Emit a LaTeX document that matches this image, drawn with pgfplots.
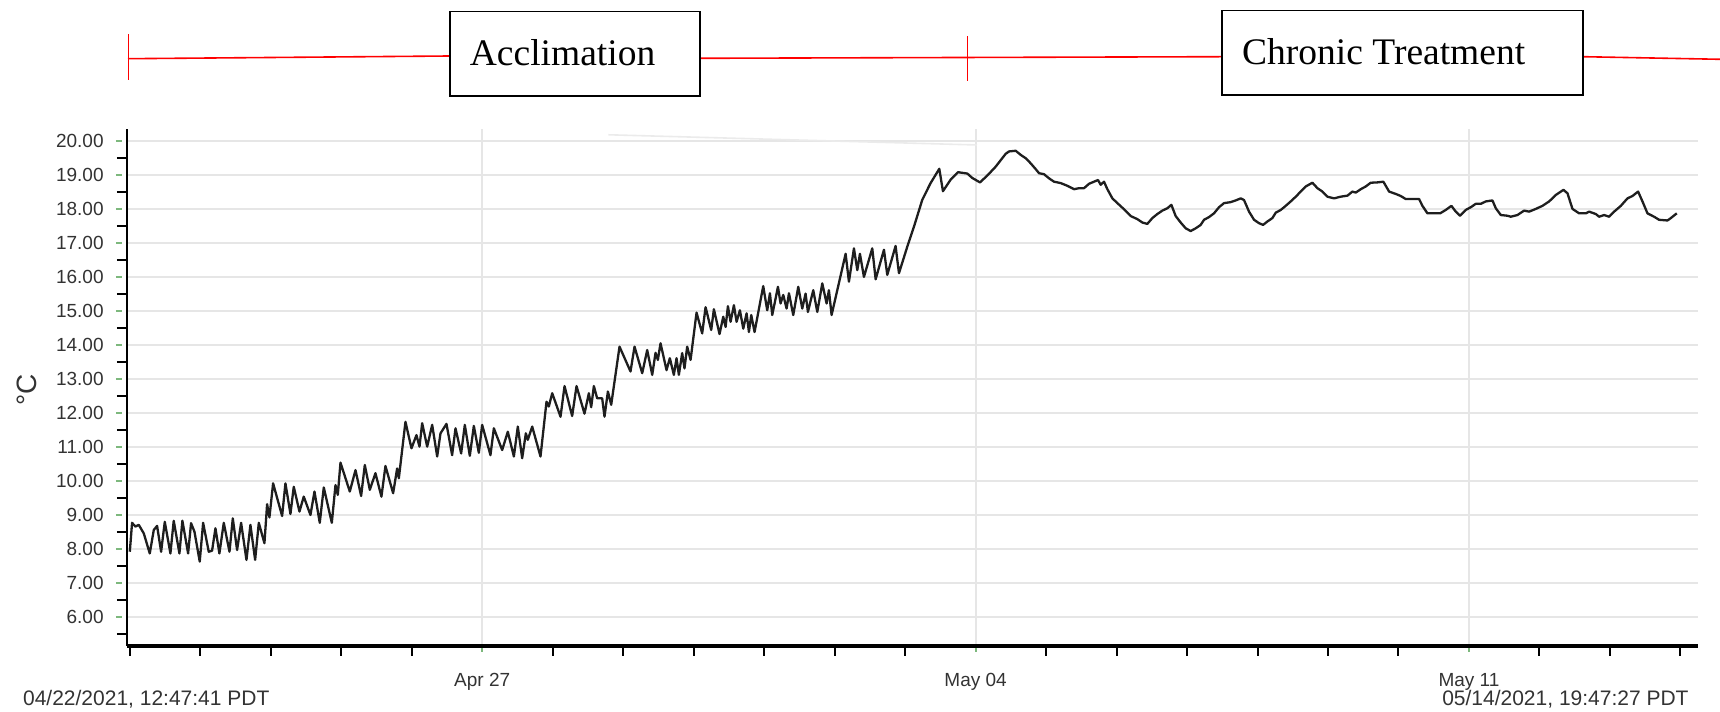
\documentclass[border=0pt]{standalone}
\usepackage{pgfplots}
\pgfplotsset{compat=1.18}
\usepackage{fontspec}
\setmainfont{Liberation Sans}
\newfontfamily\timesf{Liberation Serif}
\definecolor{lbl}{HTML}{333333}
\definecolor{tgreen}{HTML}{7DB87D}
\definecolor{gridc}{HTML}{E6E6E6}
\definecolor{linec}{HTML}{1E1E1E}

\begin{document}
\begin{tikzpicture}
\path[use as bounding box] (0,0) rectangle (860pt,356pt);
\begin{axis}[
  at={(63.5pt,33pt)}, anchor=south west,
  scale only axis, width=785.5pt, height=258.5pt,
  xmin=-0.04, xmax=22.25, ymin=5.138, ymax=20.34,
  axis lines*=left,
  x axis line style={line width=1.7pt},
  y axis line style={line width=1.4pt},
  tick align=outside,
  xtick={5,12,19}, xticklabels={Apr 27,May 04,May 11},
  minor xtick={0,1,2,3,4,6,7,8,9,10,11,13,14,15,16,17,18,20,21,22},
  ytick={6,7,8,9,10,11,12,13,14,15,16,17,18,19,20},
  yticklabels={6.00,7.00,8.00,9.00,10.00,11.00,12.00,13.00,14.00,15.00,16.00,17.00,18.00,19.00,20.00},
  minor ytick={5.5,6.5,7.5,8.5,9.5,10.5,11.5,12.5,13.5,14.5,15.5,16.5,17.5,18.5,19.5},
  major tick length=3pt, minor tick length=5pt,
  every minor tick/.append style={black, line width=1pt},
  every major tick/.append style={tgreen, line width=1pt},
  every major y tick/.append style={xshift=-2.5pt},
  grid=major, major grid style={gridc, line width=1pt},
  every tick label/.append style={font=\fontsize{9.5}{11}\selectfont, text=lbl},
  yticklabel style={anchor=east, inner sep=0pt, xshift=-8.5pt},
  xticklabel style={anchor=base, inner sep=0pt, yshift=-17.1pt},
  clip=false,
]
\addplot[color=black!8, line width=0.8pt, forget plot] coordinates {(6.79,20.17) (12.02,19.87)};
\addplot[color=linec, line width=1.15pt, line join=round, mark=none] coordinates {
(0.00,7.91) (0.032,8.76) (0.079,8.65) (0.127,8.70) (0.198,8.45) (0.283,7.86) (0.340,8.55) (0.387,8.67) (0.444,7.91) (0.496,8.79) (0.576,7.86) (0.623,8.82) (0.704,7.86) (0.746,8.82) (0.827,7.86) (0.869,8.75) (0.917,8.50) (0.992,7.62) (1.040,8.76) (1.120,7.91) (1.167,7.94) (1.215,8.60) (1.271,7.86) (1.333,8.76) (1.414,7.91) (1.461,8.89) (1.522,7.96) (1.579,8.76) (1.655,7.67) (1.711,8.70) (1.778,7.67) (1.830,8.76) (1.910,8.16) (1.948,9.31) (1.981,8.92) (2.033,9.92) (2.161,8.96) (2.208,9.92) (2.279,9.02) (2.326,9.82) (2.407,9.09) (2.468,9.53) (2.563,8.99) (2.620,9.68) (2.695,8.76) (2.752,9.80) (2.866,8.76) (2.918,9.87) (2.951,9.58) (2.989,10.53) (3.121,9.68) (3.202,10.31) (3.282,9.55) (3.334,10.46) (3.405,9.73) (3.485,10.22) (3.570,9.53) (3.627,10.43) (3.736,9.63) (3.793,10.36) (3.817,10.07) (3.911,11.73) (3.996,10.95) (4.067,11.34) (4.110,11.00)
(4.148,11.69) (4.219,11.00) (4.290,11.64) (4.361,10.71) (4.408,11.39) (4.493,11.67) (4.573,10.75) (4.621,11.54) (4.701,10.80) (4.753,11.64) (4.824,10.73) (4.881,11.61) (4.952,10.82) (4.999,11.64) (5.117,10.75) (5.165,11.54) (5.283,10.90) (5.363,11.44) (5.449,10.71) (5.505,11.59) (5.567,10.66) (5.619,11.39) (5.647,11.20) (5.709,11.59) (5.827,10.71) (5.912,12.32) (5.945,12.18) (5.993,12.57) (6.111,11.88) (6.168,12.78) (6.276,11.90) (6.338,12.78) (6.451,11.97) (6.513,12.57) (6.546,12.16) (6.584,12.78) (6.631,12.42) (6.702,12.42) (6.735,11.88) (6.783,12.62) (6.830,12.23) (6.948,13.94) (7.104,13.21) (7.161,13.94) (7.270,13.16) (7.341,13.84) (7.412,13.11) (7.459,13.76) (7.492,13.55) (7.530,14.04) (7.615,13.25) (7.662,13.60) (7.719,13.11) (7.757,13.60) (7.790,13.11) (7.837,13.75) (7.870,13.30) (7.908,13.94) (7.956,13.55) (8.041,14.94) (8.121,14.33) (8.169,15.10) (8.249,14.43) (8.287,15.04) (8.367,14.31)
(8.420,14.82) (8.453,14.52) (8.486,15.13) (8.524,14.67) (8.571,15.16) (8.609,14.67) (8.656,15.01) (8.704,14.47) (8.751,14.92) (8.784,14.37) (8.817,14.87) (8.864,14.37) (8.987,15.72) (9.044,15.01) (9.082,15.51) (9.115,14.87) (9.196,15.70) (9.233,15.21) (9.271,15.46) (9.319,15.06) (9.352,15.51) (9.413,14.87) (9.484,15.70) (9.541,15.06) (9.588,15.50) (9.621,14.96) (9.697,15.60) (9.754,14.96) (9.825,15.80) (9.886,15.21) (9.919,15.60) (9.957,14.87) (10.156,16.67) (10.203,15.85) (10.274,16.83) (10.322,16.19) (10.359,16.67) (10.416,15.99) (10.534,16.83) (10.582,15.92) (10.700,16.79) (10.747,16.05) (10.865,16.90) (10.913,16.10) (11.031,16.88) (11.126,17.47) (11.244,18.26) (11.362,18.75) (11.485,19.17) (11.537,18.51) (11.646,18.85) (11.750,19.07) (11.883,19.03) (11.953,18.90) (12.062,18.77) (12.166,18.97) (12.284,19.23)
(12.427,19.61) (12.474,19.68) (12.569,19.70) (12.640,19.58) (12.711,19.48) (12.782,19.33) (12.853,19.16) (12.900,19.04) (12.971,19.01) (13.042,18.89) (13.113,18.79) (13.207,18.75) (13.302,18.67) (13.397,18.57) (13.468,18.60) (13.539,18.60) (13.610,18.73) (13.680,18.79) (13.737,18.84) (13.775,18.70) (13.822,18.79) (13.870,18.57) (13.941,18.30) (14.012,18.16) (14.106,17.98) (14.201,17.78) (14.295,17.69) (14.366,17.59) (14.437,17.55) (14.508,17.72) (14.579,17.84) (14.650,17.94) (14.721,18.01) (14.778,18.11) (14.839,17.78) (14.910,17.59) (14.981,17.42) (15.052,17.34) (15.123,17.42) (15.194,17.52) (15.241,17.67) (15.312,17.75) (15.383,17.86) (15.454,18.04) (15.525,18.16) (15.620,18.19) (15.691,18.24) (15.762,18.30) (15.809,18.25) (15.880,17.91) (15.951,17.67) (16.022,17.57) (16.079,17.52) (16.140,17.62) (16.211,17.72) (16.259,17.88) (16.330,17.96) (16.400,18.08) (16.471,18.21) (16.543,18.35) (16.613,18.50) (16.684,18.65) (16.779,18.76) (16.850,18.60) (16.921,18.50) (16.992,18.35) (17.086,18.30)
(17.181,18.35) (17.276,18.38) (17.347,18.50) (17.394,18.47) (17.465,18.57) (17.536,18.65) (17.607,18.76) (17.701,18.77) (17.786,18.79) (17.867,18.50) (17.962,18.43) (18.032,18.37) (18.103,18.28) (18.198,18.28) (18.293,18.28) (18.340,18.08) (18.411,17.86) (18.505,17.86) (18.591,17.86) (18.671,17.96) (18.751,18.08) (18.813,17.91) (18.874,17.79) (18.955,17.96) (19.026,18.04) (19.097,18.14) (19.168,18.14) (19.239,18.21) (19.333,18.24) (19.381,18.01) (19.452,17.81) (19.546,17.79) (19.593,17.76) (19.688,17.81) (19.783,17.94) (19.854,17.91) (19.948,17.99) (20.043,18.08) (20.138,18.21) (20.232,18.40) (20.341,18.55) (20.398,18.45) (20.469,17.99) (20.563,17.86) (20.658,17.86) (20.705,17.91) (20.800,17.84) (20.847,17.76) (20.918,17.81) (20.989,17.76) (21.060,17.91) (21.155,18.08) (21.249,18.30) (21.320,18.37) (21.400,18.50) (21.462,18.21) (21.533,17.86) (21.627,17.76) (21.698,17.67) (21.817,17.65) (21.864,17.72) (21.949,17.86)
};
\end{axis}
% y axis label and date labels
\node[rotate=90, inner sep=0pt, font=\fontsize{14}{16}\selectfont, text=lbl] at (13.6pt,161pt) {°C};
\node[anchor=base west, inner sep=0pt, font=\fontsize{10.5}{12}\selectfont, text=lbl] at (11.35pt,3pt) {04/22/2021, 12:47:41 PDT};
\node[anchor=base east, inner sep=0pt, font=\fontsize{10.5}{12}\selectfont, text=lbl] at (844.5pt,3pt) {05/14/2021, 19:47:27 PDT};
% top annotation
\draw[red, line width=0.8pt] (64pt,326.65pt) -- (224.9pt,328pt);
\draw[red, line width=0.8pt] (350pt,326.85pt) -- (611pt,327.65pt);
\draw[red, line width=0.8pt] (791.5pt,327.65pt) -- (860pt,326.35pt);
\draw[red, line width=0.5pt] (64.15pt,316pt) -- (64.15pt,339pt);
\draw[red, line width=0.5pt] (483.75pt,315.5pt) -- (483.75pt,338pt);
\draw[black, line width=0.8pt, fill=white] (224.9pt,308pt) rectangle (350pt,350.15pt);
\draw[black, line width=0.8pt, fill=white] (611pt,308.5pt) rectangle (791.5pt,350.65pt);
\node[anchor=base west, inner sep=0pt, font=\timesf\fontsize{18.75}{22}\selectfont] at (234.75pt,323.15pt) {Acclimation};
\node[anchor=base west, inner sep=0pt, font=\timesf\fontsize{18.75}{22}\selectfont] at (620.9pt,323.5pt) {Chronic Treatment};
\end{tikzpicture}
\end{document}
